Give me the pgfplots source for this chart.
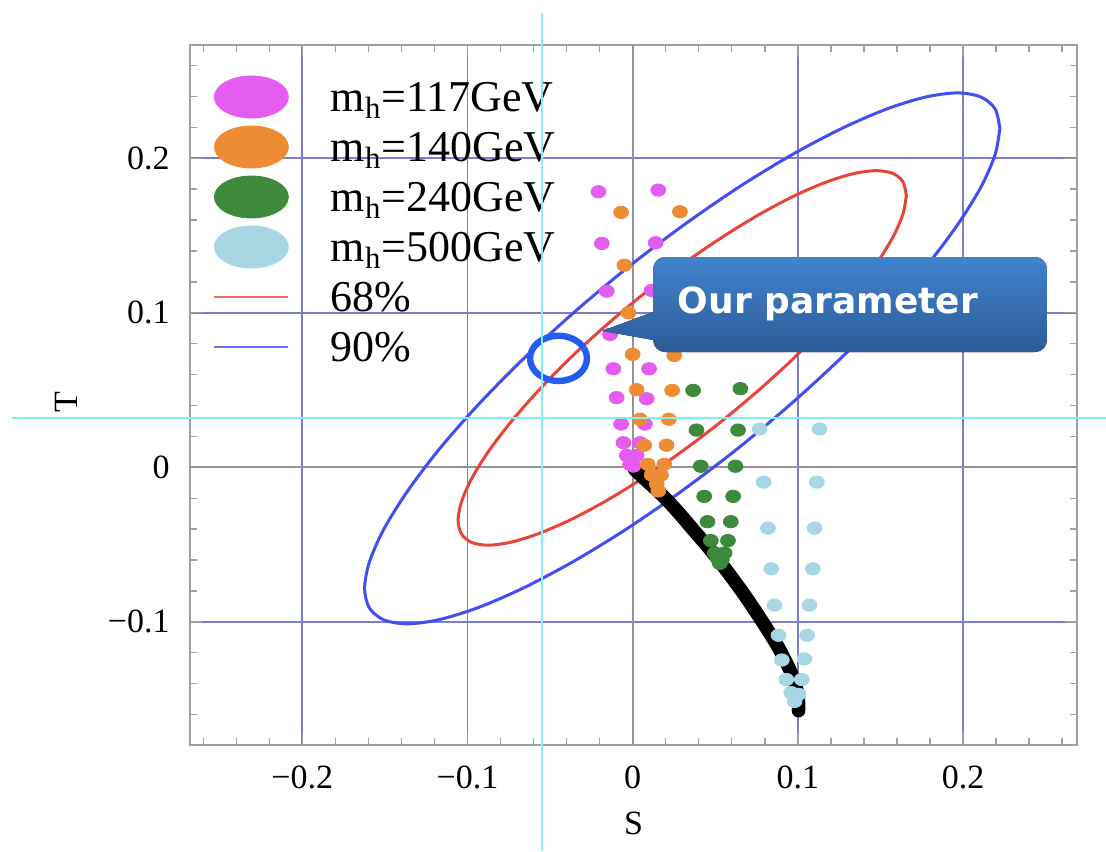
\documentclass[border=0pt]{standalone}
\usepackage{pgfplots}
\pgfplotsset{compat=1.18}
\usepackage{fontspec}
\setmainfont{Liberation Serif}
\newfontfamily\dvs{DejaVu Sans}
\usetikzlibrary{calc}
\definecolor{magC}{RGB}{228,92,240}
\definecolor{orC}{RGB}{238,140,52}
\definecolor{grC}{RGB}{62,138,60}
\definecolor{lbC}{RGB}{168,214,226}
\definecolor{redC}{RGB}{232,68,58}
\definecolor{bluC}{RGB}{64,78,242}
\definecolor{gridB}{RGB}{125,125,200}
\definecolor{circB}{RGB}{36,92,240}
\definecolor{callT}{RGB}{66,130,206}
\definecolor{callB}{RGB}{44,92,152}
\definecolor{cyanC}{RGB}{128,240,245}
\definecolor{frameC}{RGB}{160,160,160}
\begin{document}
\begin{tikzpicture}
\useasboundingbox (-95pt,-53pt) rectangle (458pt,372.5pt);
\begin{axis}[
  scale only axis, width=443.5pt, height=350pt,
  xmin=-0.268, xmax=0.269, ymin=-0.1797, ymax=0.2733,
  xtick={-0.2,-0.1,0,0.1,0.2},
  xticklabels={−0.2,−0.1,0,0.1,0.2},
  ytick={-0.1,0,0.1,0.2},
  yticklabels={−0.1,0,0.1,0.2},
  minor xtick={-0.26,-0.24,-0.22,-0.18,-0.16,-0.14,-0.12,-0.08,-0.06,-0.04,-0.02,0.02,0.04,0.06,0.08,0.12,0.14,0.16,0.18,0.22,0.24,0.26},
  minor ytick={-0.16,-0.14,-0.12,-0.08,-0.06,-0.04,-0.02,0.02,0.04,0.06,0.08,0.12,0.14,0.16,0.18,0.22,0.24,0.26},
  tick align=inside,
  major tick length=6pt, minor tick length=3.5pt,
  every tick/.style={frameC, line width=0.7pt},
  axis line style={frameC, line width=1.3pt},
  grid=major,
  major grid style={gridB, line width=0.9pt},
  tick label style={font=\fontsize{17}{20}\selectfont},
  xticklabel style={inner sep=0pt, yshift=-10pt},
  yticklabel style={inner sep=0pt, xshift=-10pt},
  xlabel={S}, ylabel={T},
  label style={font=\fontsize{17}{20}\selectfont},
  xlabel style={at={(axis description cs:0.5,-0.1114)}, anchor=center},
  ylabel style={at={(axis description cs:-0.1398,0.49)}, anchor=center},
  legend style={at={(rel axis cs:0,1)}, anchor=north west, xshift=11.5pt, yshift=-13.5pt,
    draw=none, fill=none, inner sep=0pt, outer sep=0pt, row sep=0pt, column sep=20.5pt,
    font=\fontsize{22}{26}\selectfont,
    nodes={inner sep=0pt, text height=19.8pt, text depth=5.2pt}},
  legend cell align=left,
]
% zero lines
\draw[gray!85, line width=1pt] (axis cs:0,-0.1797) -- (axis cs:0,0.2733);
\draw[gray!85, line width=1pt] (axis cs:-0.268,0) -- (axis cs:0.269,0);

% 90% ellipse
\addplot[bluC, line width=1.5pt, smooth, forget plot] coordinates {
(0.2223,0.2194)(0.2194,0.2320)(0.2107,0.2397)(0.1965,0.2423)(0.1773,0.2396)(0.1536,0.2318)(0.1262,0.2191)(0.0958,0.2019)(0.0634,0.1807)(0.0300,0.1561)(-0.0034,0.1290)(-0.0358,0.1000)(-0.0662,0.0702)(-0.0936,0.0404)(-0.1173,0.0115)(-0.1365,-0.0157)(-0.1507,-0.0401)(-0.1594,-0.0613)(-0.1623,-0.0784)(-0.1594,-0.0910)(-0.1507,-0.0987)(-0.1365,-0.1013)(-0.1173,-0.0986)(-0.0936,-0.0908)(-0.0662,-0.0781)(-0.0358,-0.0609)(-0.0034,-0.0397)(0.0300,-0.0151)(0.0634,0.0120)(0.0958,0.0410)(0.1262,0.0708)(0.1536,0.1006)(0.1773,0.1295)(0.1965,0.1567)(0.2107,0.1811)(0.2194,0.2023)(0.2223,0.2194)};
% 68% ellipse
\addplot[redC, line width=1.5pt, smooth, forget plot] coordinates {
(0.1657,0.1759)(0.1636,0.1848)(0.1575,0.1902)(0.1475,0.1920)(0.1339,0.1901)(0.1172,0.1846)(0.0979,0.1757)(0.0764,0.1635)(0.0536,0.1485)(0.0300,0.1312)(0.0064,0.1120)(-0.0164,0.0916)(-0.0379,0.0706)(-0.0572,0.0495)(-0.0739,0.0291)(-0.0875,0.0100)(-0.0975,-0.0073)(-0.1036,-0.0222)(-0.1057,-0.0343)(-0.1036,-0.0432)(-0.0975,-0.0486)(-0.0875,-0.0504)(-0.0739,-0.0485)(-0.0572,-0.0430)(-0.0379,-0.0341)(-0.0164,-0.0219)(0.0064,-0.0069)(0.0300,0.0104)(0.0536,0.0296)(0.0764,0.0500)(0.0979,0.0710)(0.1172,0.0921)(0.1339,0.1125)(0.1475,0.1316)(0.1575,0.1489)(0.1636,0.1638)(0.1657,0.1759)};

% black band
\addplot[black, line width=6.8pt, line cap=round, line join=round, smooth, forget plot] coordinates {
(0.0010,-0.0005)(0.0024,-0.0027)(0.0175,-0.0176)(0.0276,-0.0291)(0.0376,-0.0416)(0.0477,-0.0542)(0.0577,-0.0680)(0.0678,-0.0828)(0.0779,-0.0989)(0.0879,-0.1160)(0.0960,-0.1332)(0.1000,-0.1469)(0.1004,-0.1575)};

% m_h = 117
\addplot[only marks, mark=*, mark size=3.1pt, color=magC, mark options={xscale=1.2}, forget plot] coordinates {
(-0.0207,0.1783)(0.0155,0.1794)(-0.0187,0.1449)(0.0139,0.1453)(-0.0157,0.1140)(0.0115,0.1145)(-0.0137,0.0860)(0.0105,0.0871)(-0.0117,0.0638)(0.0099,0.0638)(-0.0097,0.0451)(0.0085,0.0444)(-0.0070,0.0280)(0.0074,0.0280)(-0.0056,0.0159)(0.0044,0.0159)(-0.0036,0.0077)(0.0024,0.0077)(-0.0016,0.0019)(0.0004,0.0008)};
% m_h = 140
\addplot[only marks, mark=*, mark size=3.1pt, color=orC, mark options={xscale=1.2}, forget plot] coordinates {
(-0.0070,0.1650)(0.0286,0.1654)(-0.0050,0.1308)(0.0270,0.1308)(-0.0026,0.1000)(0.0258,0.1000)(0.0000,0.0731)(0.0252,0.0724)(0.0024,0.0502)(0.0239,0.0498)(0.0044,0.0311)(0.0219,0.0311)(0.0070,0.0143)(0.0205,0.0143)(0.0091,0.0019)(0.0191,0.0019)(0.0115,-0.0050)(0.0171,-0.0050)(0.0145,-0.0108)(0.0155,-0.0153)};
% m_h = 240
\addplot[only marks, mark=*, mark size=3.1pt, color=grC, mark options={xscale=1.2}, forget plot] coordinates {
(0.0366,0.0498)(0.0652,0.0509)(0.0386,0.0241)(0.0638,0.0241)(0.0412,0.0007)(0.0622,0.0007)(0.0433,-0.0188)(0.0608,-0.0188)(0.0453,-0.0352)(0.0594,-0.0352)(0.0473,-0.0474)(0.0577,-0.0474)(0.0497,-0.0554)(0.0557,-0.0554)(0.0527,-0.0622)(0.0515,-0.0590)(0.0540,-0.0600)};
% m_h = 500
\addplot[only marks, mark=*, mark size=3.1pt, color=lbC, mark options={xscale=1.2}, forget plot] coordinates {
(0.0769,0.0248)(0.1131,0.0248)(0.0793,-0.0096)(0.1115,-0.0096)(0.0819,-0.0394)(0.1101,-0.0394)(0.0839,-0.0657)(0.1091,-0.0657)(0.0859,-0.0892)(0.1070,-0.0892)(0.0883,-0.1087)(0.1056,-0.1087)(0.0903,-0.1247)(0.1040,-0.1240)(0.0930,-0.1373)(0.1024,-0.1373)(0.0960,-0.1458)(0.1004,-0.1469)(0.0980,-0.1515)};

% our parameter
\addplot[only marks, mark=o, mark size=11.3pt, color=circB, mark options={xscale=1.26, line width=3.2pt}, forget plot] coordinates {(-0.0449,0.0705)};

% callout anchor points
\coordinate (P1) at (axis cs:-0.0185,0.0883);
\coordinate (P2) at (axis cs:0.0124,0.1005);
\coordinate (P3) at (axis cs:0.0124,0.1361);
\coordinate (P4) at (axis cs:0.2508,0.1361);
\coordinate (P5) at (axis cs:0.2508,0.0746);
\coordinate (P6) at (axis cs:0.0124,0.0746);
\coordinate (P7) at (axis cs:0.0124,0.0824);
\coordinate (PT) at (axis cs:0.1182,0.1078);
\coordinate (C) at (axis cs:-0.055,0.032);

% legend
\addlegendimage{legend image code/.code={\fill[magC] (18.5pt,0pt) ellipse [x radius=18.5pt, y radius=10.5pt];}}
\addlegendentry{m\textsubscript{h}=117GeV}
\addlegendimage{legend image code/.code={\fill[orC] (18.5pt,0pt) ellipse [x radius=18.5pt, y radius=10.5pt];}}
\addlegendentry{m\textsubscript{h}=140GeV}
\addlegendimage{legend image code/.code={\fill[grC] (18.5pt,0pt) ellipse [x radius=18.5pt, y radius=10.5pt];}}
\addlegendentry{m\textsubscript{h}=240GeV}
\addlegendimage{legend image code/.code={\fill[lbC] (18.5pt,0pt) ellipse [x radius=18.5pt, y radius=10.5pt];}}
\addlegendentry{m\textsubscript{h}=500GeV}
\addlegendimage{legend image code/.code={\draw[redC!80, line width=1.4pt] (0pt,0pt) -- (37pt,0pt);}}
\addlegendentry{68\%}
\addlegendimage{legend image code/.code={\draw[bluC!80, line width=1.4pt] (0pt,0pt) -- (37pt,0pt);}}
\addlegendentry{90\%}
\end{axis}
% callout (annotation)
\fill[top color=callT, bottom color=callB] (P1) -- (P2) [rounded corners=6pt] -- (P3) -- (P4) -- (P5) -- (P6) [sharp corners] -- (P7) -- cycle;
\node[anchor=base, text=white, font=\dvs\bfseries\fontsize{18}{20}\selectfont, inner sep=0pt, yshift=-6.6pt] at (PT) {Our parameter};
% crosshair
\draw[cyanC, line width=1pt] let \p1=(C) in (\x1,366pt) -- (\x1,-53pt);
\draw[cyanC, line width=1pt] let \p1=(C) in (-89pt,\y1) -- (458pt,\y1);
\end{tikzpicture}
\end{document}
